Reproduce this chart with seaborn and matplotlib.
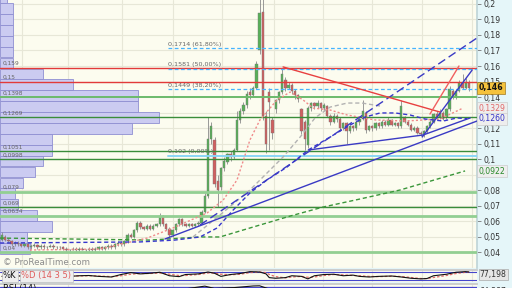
import numpy as np
import pandas as pd
import matplotlib
matplotlib.use("Agg")
import matplotlib.pyplot as plt
import seaborn as sns

# ---------------- data ----------------
opens = [0.048,0.050,0.048,0.047,0.045,0.046,0.045,0.044,0.045,0.043,
         0.044,0.0445,0.043,0.044,0.043,0.0435,0.044,0.043,0.0435,0.043,
         0.042,0.041,0.0415,0.042,0.041,0.042,0.0415,0.041,0.042,0.041,
         0.042,0.043,0.042,0.043,0.044,0.043,0.045,0.046,0.045,0.047,
         0.051,0.050,0.054,0.059,0.056,0.055,0.057,0.055,0.057,0.058,
         0.063,0.058,0.055,0.051,0.054,0.058,0.061,0.058,0.057,0.058,
         0.057,0.058,0.059,0.066,0.076,0.113,0.112,0.086,0.082,0.094,
         0.098,0.103,0.101,0.106,0.125,0.131,0.135,0.143,0.141,0.146,
         0.170,0.195,0.128,0.143,0.125,0.132,0.138,0.143,0.151,0.146,
         0.148,0.144,0.141,0.132,0.124,0.109,0.133,0.136,0.134,0.136,
         0.133,0.134,0.128,0.124,0.128,0.126,0.120,0.123,0.118,0.121,
         0.120,0.124,0.126,0.130,0.119,0.121,0.120,0.123,0.121,0.124,
         0.122,0.125,0.122,0.123,0.121,0.127,0.124,0.122,0.119,0.120,
         0.117,0.116,0.118,0.121,0.124,0.129,0.127,0.130,0.127,0.132,
         0.144,0.140,0.144,0.149,0.146,0.149]
closes = [0.051,0.048,0.047,0.045,0.046,0.045,0.044,0.045,0.043,0.044,
          0.0445,0.043,0.044,0.043,0.0435,0.044,0.043,0.0435,0.043,0.042,
          0.041,0.0415,0.042,0.041,0.042,0.0415,0.041,0.042,0.041,0.042,
          0.043,0.042,0.043,0.044,0.043,0.045,0.046,0.045,0.047,0.051,
          0.050,0.054,0.059,0.056,0.055,0.057,0.055,0.057,0.058,0.063,
          0.058,0.055,0.051,0.054,0.058,0.061,0.058,0.057,0.058,0.057,
          0.058,0.059,0.066,0.076,0.113,0.121,0.084,0.080,0.094,0.099,
          0.103,0.101,0.106,0.125,0.131,0.135,0.142,0.141,0.146,0.161,
          0.194,0.128,0.110,0.137,0.117,0.138,0.143,0.155,0.146,0.148,
          0.144,0.141,0.139,0.118,0.113,0.133,0.136,0.134,0.136,0.133,
          0.135,0.128,0.124,0.128,0.126,0.120,0.123,0.118,0.121,0.120,
          0.124,0.126,0.131,0.119,0.121,0.120,0.123,0.121,0.124,0.122,
          0.125,0.122,0.123,0.121,0.134,0.124,0.122,0.119,0.120,0.117,
          0.116,0.118,0.121,0.124,0.129,0.127,0.130,0.126,0.132,0.145,
          0.140,0.144,0.149,0.146,0.150,0.146]
highs = [0.053,0.051,0.049,0.048,0.047,0.047,0.046,0.046,0.046,0.045,
         0.046,0.045,0.045,0.045,0.044,0.045,0.045,0.044,0.044,0.044,
         0.043,0.042,0.043,0.043,0.043,0.043,0.042,0.043,0.043,0.043,
         0.044,0.044,0.044,0.045,0.045,0.046,0.047,0.047,0.048,0.052,
         0.052,0.055,0.060,0.060,0.057,0.058,0.058,0.058,0.059,0.065,
         0.064,0.059,0.056,0.055,0.059,0.062,0.062,0.059,0.059,0.059,
         0.059,0.060,0.067,0.078,0.127,0.124,0.114,0.090,0.095,0.101,
         0.104,0.105,0.107,0.131,0.133,0.137,0.144,0.146,0.147,0.163,
         0.206,0.206,0.131,0.146,0.127,0.139,0.144,0.159,0.153,0.150,
         0.149,0.145,0.142,0.133,0.125,0.134,0.137,0.137,0.138,0.137,
         0.136,0.135,0.129,0.130,0.129,0.127,0.124,0.124,0.122,0.122,
         0.125,0.127,0.138,0.131,0.122,0.122,0.124,0.124,0.125,0.125,
         0.127,0.126,0.124,0.124,0.138,0.128,0.125,0.123,0.121,0.121,
         0.118,0.119,0.122,0.125,0.130,0.131,0.132,0.131,0.133,0.147,
         0.145,0.145,0.151,0.155,0.152,0.151]
lows = [0.047,0.047,0.046,0.044,0.044,0.044,0.043,0.043,0.042,0.042,
        0.043,0.042,0.042,0.042,0.042,0.043,0.042,0.042,0.042,0.041,
        0.040,0.0395,0.041,0.040,0.040,0.041,0.040,0.040,0.040,0.040,
        0.041,0.041,0.041,0.042,0.042,0.042,0.044,0.044,0.044,0.046,
        0.049,0.049,0.053,0.055,0.054,0.054,0.054,0.054,0.056,0.057,
        0.057,0.054,0.050,0.050,0.053,0.057,0.057,0.056,0.056,0.056,
        0.056,0.057,0.058,0.065,0.075,0.110,0.082,0.069,0.080,0.092,
        0.097,0.099,0.100,0.105,0.123,0.129,0.133,0.139,0.140,0.145,
        0.168,0.125,0.104,0.106,0.113,0.130,0.136,0.142,0.144,0.145,
        0.142,0.139,0.137,0.116,0.106,0.107,0.131,0.132,0.133,0.131,
        0.131,0.127,0.122,0.123,0.124,0.118,0.119,0.110,0.117,0.118,
        0.119,0.122,0.125,0.117,0.118,0.118,0.119,0.120,0.120,0.121,
        0.121,0.121,0.121,0.120,0.120,0.123,0.121,0.118,0.118,0.116,
        0.115,0.114,0.117,0.120,0.123,0.126,0.126,0.125,0.126,0.131,
        0.139,0.139,0.143,0.145,0.145,0.144]

price_ticks = [0.04,0.05,0.06,0.07,0.08,0.09,0.1,0.11,0.12,0.13,0.14,
               0.15,0.16,0.17,0.18,0.19,0.2]
# labels hidden behind the price tags in the reference are left empty
price_tick_labels = ["0,04","0,05","0,06","0,07","0,08","","0,1","0,11",
                     "0,12","","0,14","0,15","0,16","0,17","0,18","0,19","0,2"]
grid_prices = [0.03,0.04,0.05,0.06,0.07,0.08,0.09,0.1,0.11,0.12,0.13,0.14,
               0.15,0.16,0.17,0.18,0.19,0.2]
month_starts = [6.2,20.5,37.3,53.1,68.3,84.5,99.7,114.9,130.5,146.0]

level_prices = [0.159,0.15,0.1398,0.1269,0.1051,0.0998,0.079,0.069,0.0634,0.04]
level_labels = ["0,159","0,15","0,1398","0,1269","0,1051","0,0998","0,079",
                "0,069","0,0634","0,04"]
level_kind = ["res","res","mid","sup","sup","sup","light","sup","light","light"]

fib_prices = [0.1714,0.1581,0.1449,0.102]
fib_labels = ["0,1714 (61,80%)","0,1581 (50,00%)","0,1449 (38,20%)","0,102 (0,00%)"]
fib_start = 51.6

vp_levels = [0.2041,0.1971,0.1901,0.1831,0.1760,0.1690,0.1620,0.1549,0.1479,
             0.1409,0.1338,0.1268,0.1198,0.1127,0.1057,0.0987,0.0916,0.0846,
             0.0776,0.0705,0.0635,0.0565,0.0494,0.0424]
vp_volume = [7,13,13,13,13,13,13,43,73,138,138,159,132,52,52,43,35,23,15,18,
             37,52,27,30]

red_trend_a_x, red_trend_a_y = [87.3,136.0], [0.1594,0.1303]
red_trend_b_x, red_trend_b_y = [132.9,141.9], [0.129,0.160]
blue_trend_x, blue_trend_y = [50.6,147.5], [0.0484,0.1245]
blue_channel_x, blue_channel_y = [61.5,147.5], [0.0574,0.1781]
blue_base_x, blue_base_y = [95.1,130.8], [0.1058,0.1155]
blue_steep_x, blue_steep_y = [130.5,146.0], [0.1142,0.1574]
blue_short_x, blue_short_y = [130.8,145.4], [0.1155,0.1265]

blue_ma_x = [-0.6,42.9,53.7,61.5,66.8,71.8,77.0,82.3,88.5,95.1,101.9,108.1,
             112.8,117.4,122.1,126.7,131.4,137.0,141.3,144.4]
blue_ma_y = [0.0458,0.0465,0.0477,0.0497,0.0555,0.0671,0.0781,0.0865,0.0948,
             0.1058,0.1142,0.1219,0.1271,0.1297,0.1297,0.1284,0.1258,0.1245,
             0.1265,0.126]
grey_ma_x = [59.3,67.7,77.0,87.3,92.6,97.2,101.9,107.2,111.8,117.4]
grey_ma_y = [0.0497,0.0639,0.0800,0.1013,0.1142,0.1265,0.1335,0.1361,0.1361,0.1342]
red_ma_x = [8.7,30.5,45.1,53.1,63.7,68.7,73.0,77.0,80.1,85.4,89.5,93.5,96.6,
            101.9,107.2,115.9,125.2,136.0,143.2]
red_ma_y = [0.0413,0.0419,0.0490,0.0555,0.0652,0.0735,0.0865,0.1123,0.1252,
            0.1381,0.1432,0.1381,0.1329,0.1316,0.1284,0.1252,0.1245,0.1258,0.1329]
green_ma_x = [-0.6,46.0,61.5,67.7,77.0,89.5,99.7,111.2,123.6,143.8]
green_ma_y = [0.0490,0.0477,0.0497,0.0497,0.0555,0.0632,0.0690,0.0742,0.0800,0.0923]

stoch_x = [0,9,18,21,24,27,30,34,37,40,43,46,49,52,55,57,61,64,66,68,71,74,77,
           80,82,83,85,88,90,93,95,97,100,103,106,109,111,114,117,121,124,127,
           130,132,134,138,141,144,145]
stoch_k = [45,50,55,45,50,52,45,40,60,75,65,70,78,50,43,60,65,80,70,45,60,68,
           83,80,65,35,30,35,50,45,25,50,60,62,50,55,45,40,45,48,40,30,25,28,
           50,62,78,83,80]
stoch_d = [48,50,52,50,48,50,48,43,50,62,68,68,72,62,52,52,60,72,72,62,58,62,
           75,80,75,60,43,33,40,45,38,40,52,60,57,52,50,45,43,46,44,36,28,27,
           36,52,68,78,80]
rsi_x = [0,20,40,55,63,66,72,78,80,84,90,96,105,115,125,135,140,145]
rsi_v = [45,40,60,62,84,70,75,85,86,60,62,55,52,50,48,55,65,64]

# ---------------- style ----------------
sns.set_theme(style="white")
plt.rcParams['font.family'] = ['DejaVu Sans']

BG = '#fcfcef'
GRID = '#e7e7d7'
fig = plt.figure(figsize=(5.12, 2.88), dpi=100)
fig.patch.set_facecolor('#e5f6f9')

W = 477 / 512
ax = fig.add_axes([0, 20 / 288, W, 268 / 288])
ax_s = fig.add_axes([0, 6 / 288, W, 12.5 / 288], sharex=ax)
ax_r = fig.add_axes([0, -12 / 288, W, 16.5 / 288], sharex=ax)

for a in (ax, ax_s, ax_r):
    a.set_facecolor(BG)
    for s in a.spines.values():
        s.set_visible(False)
    for m in month_starts:
        a.axvline(m, color=GRID, lw=0.8, zorder=0)

XMIN, XMAX = -0.6, 147.5
PX = 3.22  # pixels per candle slot
ax.set_xlim(XMIN, XMAX)
ax.set_ylim(0.02968, 0.20258)

for g in grid_prices:
    ax.axhline(g, color=GRID, lw=0.8, zorder=0)

# volume profile
ax.barh(vp_levels, np.array(vp_volume) / PX, height=0.0069, left=XMIN,
        color='#cbcbf1', edgecolor='#8f8fd2', linewidth=0.6, zorder=1.5)

# candles
n = len(closes)
idx = np.arange(n)
o = np.array(opens); c = np.array(closes)
cols = ['#58b058' if cc >= oo else '#d06060' for oo, cc in zip(o, c)]
ax.vlines(idx, lows, highs, color='#8a8a8a', lw=0.6, zorder=3)
ax.bar(idx, np.maximum(np.abs(c - o), 0.0005), bottom=np.minimum(o, c),
       width=0.72, color=cols, edgecolor='#777777', linewidth=0.3, zorder=3.5)

# horizontal levels
kind_style = {"res": ('#e23a3a', 1.0), "mid": ('#6cba6c', 1.4),
              "sup": ('#3a8d3a', 1.0), "light": ('#92cf92', 2.0)}
for p, lab, k in zip(level_prices, level_labels, level_kind):
    col, lw = kind_style[k]
    ax.axhline(p, color=col, lw=lw, zorder=4)
    ax.annotate(lab, (0.3, p), xytext=(0, 1.2), textcoords='offset points',
                fontsize=4.2, color='#666666', va='bottom', ha='left', zorder=6)

# fibonacci
for p, lab in zip(fib_prices, fib_labels):
    if lab.startswith("0,102"):
        ax.plot([fib_start, XMAX], [p, p], color='#8ad6f6', lw=1.4, zorder=4)
    else:
        ax.plot([fib_start, XMAX], [p, p], color='#45b4ff', lw=0.9,
                linestyle=(0, (3, 2)), zorder=4)
    ax.annotate(lab, (fib_start, p), xytext=(0, 1.2), textcoords='offset points',
                fontsize=4.6, color='#666666', va='bottom', ha='left', zorder=6)

# moving-average like curves
sns.lineplot(x=green_ma_x, y=green_ma_y, ax=ax, color='#3a963a', lw=1.0,
             linestyle=(0, (3, 2)), estimator=None, sort=False, zorder=4.5)
sns.lineplot(x=grey_ma_x, y=grey_ma_y, ax=ax, color='#b2b2b2', lw=1.0,
             linestyle=(0, (3, 2)), estimator=None, sort=False, zorder=4.5)
sns.lineplot(x=red_ma_x, y=red_ma_y, ax=ax, color='#f08a8a', lw=1.0,
             linestyle=(0, (1.5, 1.5)), estimator=None, sort=False, zorder=4.5)
sns.lineplot(x=blue_ma_x, y=blue_ma_y, ax=ax, color='#3636cc', lw=1.0,
             linestyle=(0, (3, 2)), estimator=None, sort=False, zorder=4.5)

# trend lines
BLUE = '#3a3ac4'
ax.plot(blue_trend_x, blue_trend_y, color=BLUE, lw=1.0, zorder=5)
ax.plot(blue_channel_x, blue_channel_y, color=BLUE, lw=1.0,
        linestyle=(0, (6, 3)), zorder=5)
ax.plot(blue_base_x, blue_base_y, color=BLUE, lw=1.0, zorder=5)
ax.plot(blue_steep_x, blue_steep_y, color=BLUE, lw=1.0, zorder=5)
ax.plot(blue_short_x, blue_short_y, color=BLUE, lw=1.0, zorder=5)
ax.plot(red_trend_a_x, red_trend_a_y, color='#e84040', lw=1.0, zorder=5)
ax.plot(red_trend_b_x, red_trend_b_y, color='#f06060', lw=1.0, zorder=5)

ax.legend_ = None
ax.set_xlabel(""); ax.set_ylabel("")
ax.tick_params(axis='x', bottom=False, labelbottom=False)
ax.yaxis.tick_right()
ax.set_yticks(price_ticks)
ax.set_yticklabels(price_tick_labels)
ax.tick_params(axis='y', right=True, length=3, width=0.6, color='#777777',
               pad=2, labelsize=5.6, labelcolor='#333333')
ax.spines['right'].set_visible(True)
ax.spines['right'].set_color('#bfd5d8')

ax.text(0.006, 0.022, "© ProRealTime.com", transform=ax.transAxes,
        fontsize=6.3, color='#8c8c8c', va='center', ha='left', zorder=7)

# right-side price tags
yt = ax.get_yaxis_transform()
ax.text(1.004, 0.146, "0,146", transform=yt, fontsize=5.6, fontweight='bold',
        color='#111111', va='center', ha='left', zorder=8, clip_on=False,
        bbox=dict(boxstyle='square,pad=0.2', fc='#f4c23c', ec='#a07a20', lw=0.5))
ax.text(1.004, 0.1329, "0,1329", transform=yt, fontsize=5.6, color='#e06a6a',
        va='center', ha='left', zorder=8, clip_on=False,
        bbox=dict(boxstyle='square,pad=0.2', fc='#eeeeee', ec='#cccccc', lw=0.5))
ax.text(1.004, 0.126, "0,1260", transform=yt, fontsize=5.6, color='#3232c8',
        va='center', ha='left', zorder=8, clip_on=False,
        bbox=dict(boxstyle='square,pad=0.2', fc='#eeeeee', ec='#cccccc', lw=0.5))
ax.text(1.004, 0.0922, "0,0922", transform=yt, fontsize=5.6, color='#2a8a2a',
        va='center', ha='left', zorder=8, clip_on=False,
        bbox=dict(boxstyle='square,pad=0.2', fc='#eeeeee', ec='#cccccc', lw=0.5))

# stochastic panel
ax_s.set_ylim(0, 100)
ax_s.fill_between([XMIN, XMAX], 8, 20, color='#dadaf4', lw=0, zorder=0.5)
ax_s.axhline(80, color='#4646cc', lw=0.8, zorder=1)
ax_s.axhline(20, color='#4646cc', lw=0.8, zorder=1)
sns.lineplot(x=stoch_x, y=stoch_d, ax=ax_s, color='#e06a6a', lw=0.9,
             linestyle=(0, (2, 1.5)), estimator=None, sort=False, zorder=2)
sns.lineplot(x=stoch_x, y=stoch_k, ax=ax_s, color='#111111', lw=0.8,
             estimator=None, sort=False, zorder=3)
ax_s.set_xlabel(""); ax_s.set_ylabel("")
ax_s.set_yticks([]); ax_s.tick_params(axis='x', bottom=False, labelbottom=False)
ax_s.spines['top'].set_visible(True); ax_s.spines['top'].set_color('#c8c8c8')
ax_s.text(0.006, 0.5, "%K", transform=ax_s.transAxes, fontsize=6, color='#111111',
          va='center', ha='left', zorder=6,
          bbox=dict(boxstyle='square,pad=0.15', fc='#eeeeee', ec='#bbbbbb', lw=0.5))
ax_s.text(0.045, 0.5, "%D (14 3 5)", transform=ax_s.transAxes, fontsize=6,
          color='#e05c5c', va='center', ha='left', zorder=6,
          bbox=dict(boxstyle='square,pad=0.15', fc='#eeeeee', ec='#bbbbbb', lw=0.5))
ax_s.text(1.006, 0.62, "77,198", transform=ax_s.transAxes, fontsize=5.6,
          color='#333333', va='center', ha='left', clip_on=False, zorder=6,
          bbox=dict(boxstyle='square,pad=0.15', fc='#e6e6e6', ec='#aaaaaa', lw=0.5))

# RSI panel (mostly below the visible area)
ax_r.set_ylim(0, 100)
ax_r.axhline(80, color='#4646cc', lw=0.9, zorder=1)
sns.lineplot(x=rsi_x, y=rsi_v, ax=ax_r, color='#111111', lw=0.8,
             estimator=None, sort=False, zorder=3)
ax_r.set_xlabel(""); ax_r.set_ylabel("")
ax_r.set_yticks([]); ax_r.tick_params(axis='x', bottom=False, labelbottom=False)
ax_r.spines['top'].set_visible(True); ax_r.spines['top'].set_color('#c8c8c8')
ax_r.text(0.006, 0.95, "RSI (14)", transform=ax_r.transAxes, fontsize=6,
          color='#111111', va='top', ha='left', zorder=6)
ax_r.text(1.006, 0.8, "64,287", transform=ax_r.transAxes, fontsize=5.6,
          color='#333333', va='top', ha='left', clip_on=False, zorder=6)

fig.savefig("out.png", dpi=100, facecolor=fig.get_facecolor())
